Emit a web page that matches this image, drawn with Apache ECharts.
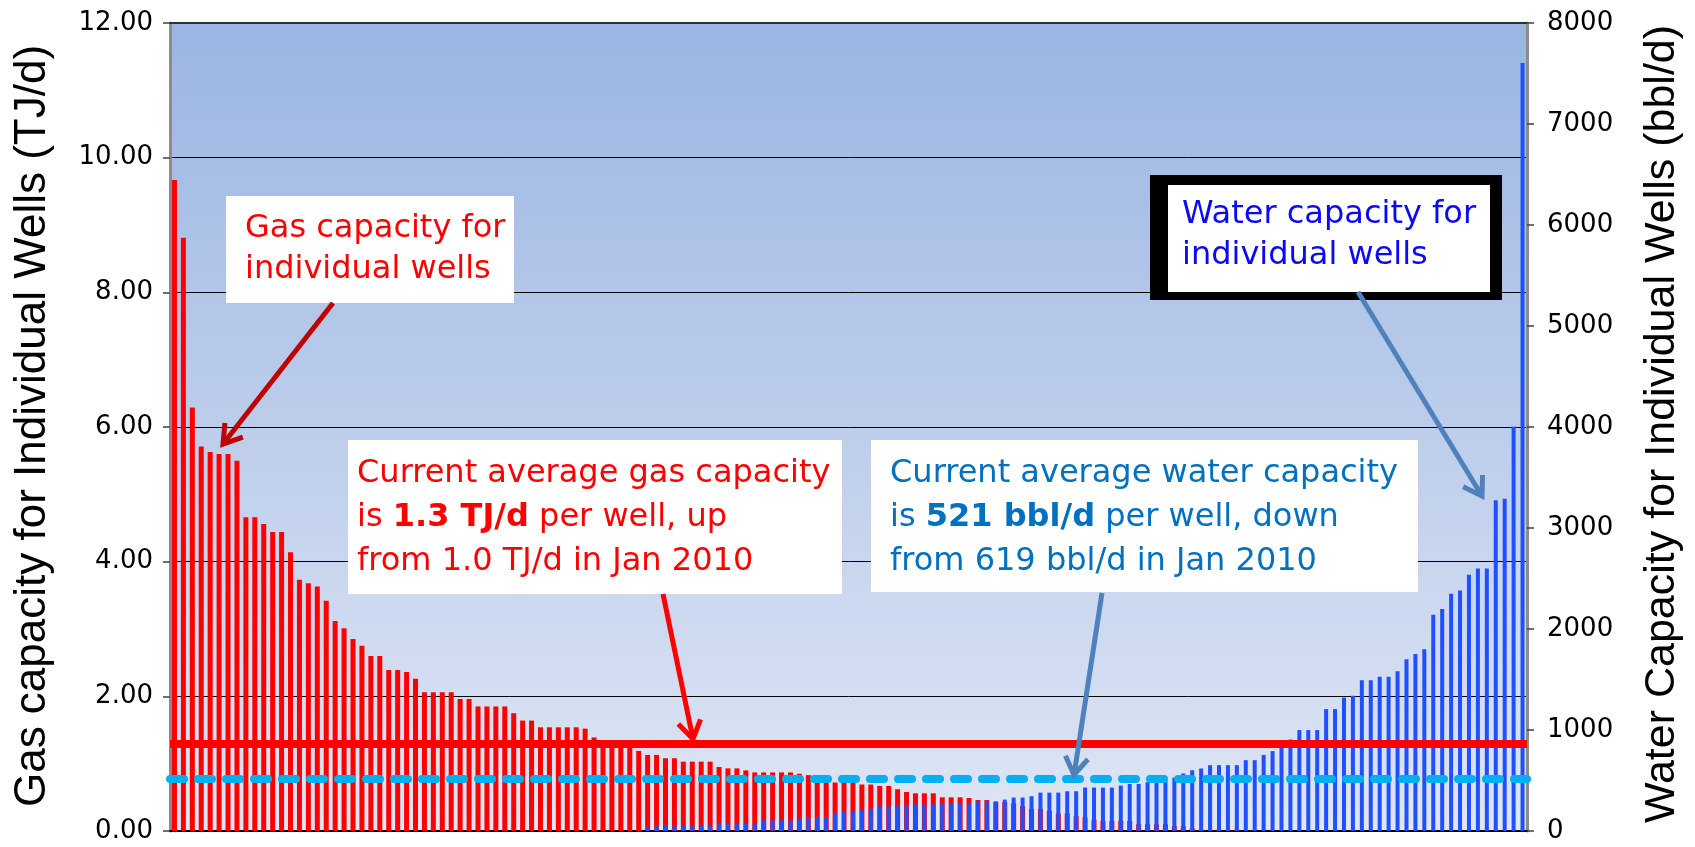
<!DOCTYPE html>
<html>
<head>
<meta charset="utf-8">
<script src="https://cdn.jsdelivr.net/npm/echarts@6/dist/echarts.min.js"></script>
<style>
html,body{margin:0;padding:0;background:#ffffff;}
#chart{width:1695px;height:847px;}
</style>
</head>
<body>
<div id="chart"></div>
<script>
// ---- Data ----
const gasCapacity = [
  9.67, 8.81, 6.29, 5.71, 5.63, 5.60, 5.60, 5.50, 4.66, 4.66,
  4.56, 4.44, 4.44, 4.14, 3.73, 3.68, 3.63, 3.42, 3.12, 3.01,
  2.85, 2.75, 2.60, 2.60, 2.39, 2.39, 2.36, 2.26, 2.06, 2.06,
  2.06, 2.06, 1.96, 1.96, 1.85, 1.85, 1.85, 1.85, 1.75, 1.64,
  1.64, 1.54, 1.54, 1.54, 1.54, 1.54, 1.52, 1.39, 1.30, 1.29,
  1.29, 1.28, 1.19, 1.13, 1.13, 1.08, 1.08, 1.03, 1.03, 1.03,
  1.03, 0.95, 0.93, 0.93, 0.90, 0.87, 0.87, 0.87, 0.87, 0.87,
  0.85, 0.83, 0.79, 0.77, 0.72, 0.72, 0.72, 0.69, 0.69, 0.67,
  0.67, 0.62, 0.58, 0.56, 0.56, 0.56, 0.50, 0.50, 0.50, 0.49,
  0.46, 0.46, 0.43, 0.43, 0.41, 0.37, 0.33, 0.33, 0.30, 0.26,
  0.26, 0.22, 0.20, 0.17, 0.15, 0.15, 0.15, 0.15, 0.10, 0.10,
  0.10, 0.10, 0.07, 0.07, 0.04, 0.02, 0.02, 0.02, 0.02, 0.02,
  0, 0, 0, 0, 0, 0, 0, 0, 0, 0,
  0, 0, 0, 0, 0, 0, 0, 0, 0, 0,
  0, 0, 0, 0, 0, 0, 0, 0, 0, 0,
  0, 0
];
const waterCapacity = [
  0, 0, 0, 0, 0, 0, 0, 0, 0, 0,
  0, 0, 0, 0, 0, 0, 0, 0, 0, 0,
  0, 0, 0, 0, 0, 0, 0, 0, 0, 0,
  0, 0, 0, 0, 0, 0, 0, 0, 0, 0,
  0, 0, 0, 0, 0, 0, 0, 0, 0, 0,
  0, 0, 0, 33, 53, 53, 53, 53, 53, 53,
  53, 73, 73, 73, 73, 73, 106, 106, 106, 106,
  122, 139, 139, 139, 172, 189, 189, 205, 222, 245,
  245, 245, 261, 261, 261, 261, 275, 275, 275, 275,
  294, 294, 294, 311, 331, 331, 344, 380, 380, 380,
  394, 394, 430, 430, 430, 430, 450, 466, 466, 483,
  483, 516, 528, 569, 602, 619, 652, 652, 652, 652,
  701, 701, 754, 791, 827, 906, 999, 999, 999, 1207,
  1207, 1323, 1340, 1492, 1492, 1528, 1528, 1581, 1700, 1753,
  1800, 2140, 2199, 2349, 2381, 2536, 2600, 2600, 3274, 3290,
  4002, 7603
];
const wells = gasCapacity.map((_, i) => String(i + 1));
const averageGas = 1.3;     // TJ/d
const averageWater = 521;   // bbl/d
const gasAxis = { min: 0, max: 12, interval: 2 };
const waterAxis = { min: 0, max: 8000, interval: 1000 };

// ---- Annotation helpers ----
function arrow(x1, y1, x2, y2, color, width) {
  const ang = Math.atan2(y2 - y1, x2 - x1);
  const L = 21, a = Math.PI / 5.5;
  const p1 = [x2 - L * Math.cos(ang - a), y2 - L * Math.sin(ang - a)];
  const p2 = [x2 - L * Math.cos(ang + a), y2 - L * Math.sin(ang + a)];
  return [
    { type: 'line', z: 100, shape: { x1: x1, y1: y1, x2: x2 - 2 * Math.cos(ang), y2: y2 - 2 * Math.sin(ang) },
      style: { stroke: color, lineWidth: width } },
    { type: 'polyline', z: 100, shape: { points: [p1, [x2, y2], p2] },
      style: { stroke: color, lineWidth: width, fill: null, lineJoin: 'miter', lineCap: 'butt' } }
  ];
}
const annFont = '"DejaVu Sans", Verdana, sans-serif';
const titleFont = '"Liberation Sans", Arial, sans-serif';

const chart = echarts.init(document.getElementById('chart'), null, { renderer: 'canvas' });
chart.setOption({
  animation: false,
  backgroundColor: '#ffffff',
  grid: {
    left: 170, right: 168, top: 23, bottom: 16,
    show: true, borderWidth: 0,
    backgroundColor: {
      type: 'linear', x: 0, y: 0, x2: 0, y2: 1,
      colorStops: [
        { offset: 0, color: '#9AB5E2' },
        { offset: 1, color: '#DFE6F4' }
      ]
    }
  },
  xAxis: [
    { type: 'category', data: wells, boundaryGap: true,
      axisLine: { show: true, lineStyle: { color: '#000', width: 2 } },
      axisTick: { show: false }, axisLabel: { show: false }, splitLine: { show: false } },
    { type: 'category', data: wells, boundaryGap: true, show: false }
  ],
  yAxis: [
    { type: 'value', position: 'left', min: gasAxis.min, max: gasAxis.max, interval: gasAxis.interval,
      axisLine: { show: true, lineStyle: { color: '#8C8C8C', width: 3 } },
      axisTick: { show: true, length: 7, lineStyle: { color: '#404040', width: 1.5 } },
      axisLabel: { formatter: v => v.toFixed(2), fontSize: 26, fontFamily: annFont, color: '#000', margin: 17 },
      splitLine: { show: true, lineStyle: { color: '#000', width: 1 } } },
    { type: 'value', position: 'right', min: waterAxis.min, max: waterAxis.max, interval: waterAxis.interval,
      axisLine: { show: true, lineStyle: { color: '#8C8C8C', width: 3 } },
      axisTick: { show: true, length: 7, lineStyle: { color: '#404040', width: 1.5 } },
      axisLabel: { formatter: v => String(v), fontSize: 26, fontFamily: annFont, color: '#000', margin: 20 },
      splitLine: { show: false } }
  ],
  series: [
    { name: 'Gas capacity', type: 'bar', xAxisIndex: 0, yAxisIndex: 0, data: gasCapacity,
      barWidth: 5, itemStyle: { color: '#FF0000' }, z: 2,
      markLine: { silent: true, symbol: 'none', label: { show: false },
        lineStyle: { color: '#FF0000', width: 8, type: 'solid' },
        emphasis: { disabled: true },
        data: [{ yAxis: averageGas }] } },
    { name: 'Water capacity', type: 'bar', xAxisIndex: 1, yAxisIndex: 1, data: waterCapacity,
      barWidth: 4, itemStyle: { color: '#1F4FFF' }, z: 3,
      markLine: { silent: true, symbol: 'none', label: { show: false },
        lineStyle: { color: '#00B0F0', width: 8, type: [14, 14], cap: 'round' },
        emphasis: { disabled: true },
        data: [{ yAxis: averageWater }] } }
  ],
  graphic: [
    // top border of the plot (slightly heavier in the reference)
    { type: 'line', z: 50, shape: { x1: 170, y1: 23, x2: 1527, y2: 23 }, style: { stroke: '#2B2F3A', lineWidth: 2 } },
    // axis titles
    { type: 'text', x: 33, y: 426, rotation: Math.PI / 2, z: 100,
      style: { text: 'Gas capacity for Individual Wells (TJ/d)', fill: '#000',
        font: '44px ' + titleFont, align: 'center', verticalAlign: 'middle' } },
    { type: 'text', x: 1662, y: 424, rotation: Math.PI / 2, z: 100,
      style: { text: 'Water Capacity for Individual Wells (bbl/d)', fill: '#000',
        font: '43px ' + titleFont, align: 'center', verticalAlign: 'middle' } },

    // Box 1: gas label
    { type: 'rect', z: 90, shape: { x: 226, y: 196, width: 288, height: 107 }, style: { fill: '#fff' } },
    { type: 'text', z: 100, x: 245, y: 208,
      style: { text: 'Gas capacity for\nindividual wells', fill: '#FF0000', fontSize: 32, fontFamily: annFont,
        lineHeight: 41, align: 'left', verticalAlign: 'top' } },

    // Box 2: current average gas
    { type: 'rect', z: 90, shape: { x: 348, y: 440, width: 494, height: 154 }, style: { fill: '#fff' } },
    { type: 'text', z: 100, x: 357, y: 452,
      style: { text: 'Current average gas capacity\nis {b|1.3 TJ/d} per well, up\nfrom 1.0 TJ/d in Jan 2010',
        fill: '#FF0000', fontSize: 32, fontFamily: annFont, lineHeight: 44, align: 'left', verticalAlign: 'top',
        rich: { b: { fill: '#FF0000', fontSize: 32, fontFamily: annFont, fontWeight: 'bold', lineHeight: 44 } } } },

    // Box 3: current average water
    { type: 'rect', z: 90, shape: { x: 871, y: 440, width: 547, height: 152 }, style: { fill: '#fff' } },
    { type: 'text', z: 100, x: 890, y: 452,
      style: { text: 'Current average water capacity\nis {b|521 bbl/d} per well, down\nfrom 619 bbl/d in Jan 2010',
        fill: '#0070C0', fontSize: 32, fontFamily: annFont, lineHeight: 44, align: 'left', verticalAlign: 'top',
        rich: { b: { fill: '#0070C0', fontSize: 32, fontFamily: annFont, fontWeight: 'bold', lineHeight: 44 } } } },

    // Box 4: water label (black frame)
    { type: 'rect', z: 90, shape: { x: 1150, y: 175, width: 352, height: 125 }, style: { fill: '#000' } },
    { type: 'rect', z: 91, shape: { x: 1168, y: 185, width: 322, height: 107 }, style: { fill: '#fff' } },
    { type: 'text', z: 100, x: 1182, y: 194,
      style: { text: 'Water capacity for\nindividual wells', fill: '#0A0AF5', fontSize: 32, fontFamily: annFont,
        lineHeight: 41, align: 'left', verticalAlign: 'top' } }
  ]
    .concat(arrow(333, 303, 223, 444, '#C00000', 5))
    .concat(arrow(663, 594, 693, 739, '#FF0000', 5))
    .concat(arrow(1102, 593, 1074, 775, '#4F81BD', 5))
    .concat(arrow(1358, 292, 1482, 496, '#4F81BD', 5))
});
</script>
</body>
</html>
